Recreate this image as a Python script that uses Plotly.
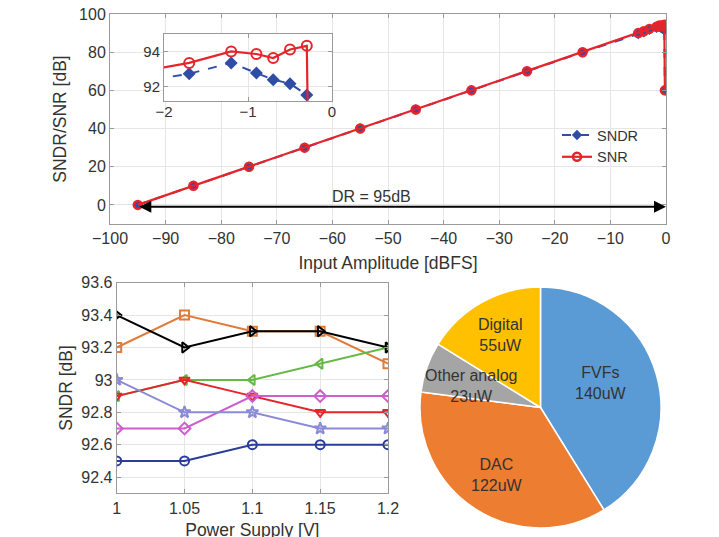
import plotly.graph_objects as go

# ---- Top: SNDR/SNR vs input amplitude ----
amp = [-95, -85, -75, -65, -55, -45, -35, -25, -15, -5, -4, -3, -1.7, -1.2, -0.9, -0.7, -0.5, -0.3, -0.2]
sndr = [0, 10, 20, 30, 40, 50, 60, 70, 80, 89.5, 90.4, 91.7, 92.72, 93.34, 92.76, 92.38, 92.15, 91.5, 60]
snr = [0, 10, 20, 30, 40, 50, 60, 70, 80, 90.0, 91.0, 92.2, 93.34, 94.0, 93.85, 93.62, 94.11, 94.32, 60]
dr_start, dr_end, dr_label, dr_label_x = -95, 0, "DR = 95dB", -53

# ---- Bottom-left: SNDR vs power supply ----
vdd = [1, 1.05, 1.1, 1.15, 1.2]
s_black = [93.4, 93.2, 93.3, 93.3, 93.2]
s_orange = [93.2, 93.4, 93.3, 93.3, 93.1]
s_green = [92.9, 93.0, 93.0, 93.1, 93.2]
s_red = [92.9, 93.0, 92.9, 92.8, 92.8]
s_magenta = [92.7, 92.7, 92.9, 92.9, 92.9]
s_lav = [93.0, 92.8, 92.8, 92.7, 92.7]
s_blue = [92.5, 92.5, 92.6, 92.6, 92.6]

# ---- Bottom-right: power breakdown ----
pie_labels = ["FVFs", "DAC", "Other analog", "Digital"]
pie_values = [140, 122, 23, 55]
pie_colors = ["#5b9bd5", "#ed7d31", "#a5a5a5", "#ffc000"]

W, H, OFF = 719, 537, 8  # page body margin offsets the figure by 8px


def dx(px):
    return (px - OFF) / W


def dy(py):
    return 1 - (py - OFF) / H


pie_label_px = [(601, 383), (497, 475), (472, 386), (500, 335)]

RED = "#e5242b"
BLUE = "#2f4da6"
FONT = "Liberation Sans, Arial, sans-serif"
TXT = "#333333"

fig = go.Figure()

# main plot traces
fig.add_trace(go.Scatter(x=amp, y=sndr, name="SNDR", mode="lines+markers",
                         line=dict(color=BLUE, width=2, dash="dash"),
                         marker=dict(symbol="diamond", size=8, color=BLUE),
                         xaxis="x", yaxis="y"))
fig.add_trace(go.Scatter(x=amp, y=snr, name="SNR", mode="lines+markers",
                         line=dict(color=RED, width=2.2),
                         marker=dict(symbol="circle-open", size=8, color=RED, line=dict(width=2.5)),
                         xaxis="x", yaxis="y"))
# inset traces
fig.add_trace(go.Scatter(x=amp, y=sndr, showlegend=False, mode="lines+markers",
                         line=dict(color=BLUE, width=2, dash="dash"),
                         marker=dict(symbol="diamond", size=10, color=BLUE),
                         xaxis="x3", yaxis="y3"))
fig.add_trace(go.Scatter(x=amp, y=snr, showlegend=False, mode="lines+markers",
                         line=dict(color=RED, width=2.2),
                         marker=dict(symbol="circle-open", size=10, color=RED, line=dict(width=2)),
                         xaxis="x3", yaxis="y3"))

# bottom-left traces
series = [
    (s_orange, "#e07b39", "square-open"),
    (s_green, "#66b844", "triangle-left-open"),
    (s_red, RED, "triangle-down-open"),
    (s_magenta, "#cc5fcc", "diamond-open"),
    (s_lav, "#8a8ad8", "star-open"),
    (s_blue, "#2a3c9c", "circle-open"),
    (s_black, "#000000", "triangle-right-open"),
]
for ys, col, sym in series:
    fig.add_trace(go.Scatter(x=vdd, y=ys, showlegend=False, mode="lines+markers",
                             line=dict(color=col, width=2),
                             marker=dict(symbol=sym, size=9, color=col, line=dict(width=2)),
                             xaxis="x2", yaxis="y2"))

# pie
fig.add_trace(go.Pie(labels=pie_labels, values=pie_values, sort=False, direction="clockwise",
                     rotation=0, marker=dict(colors=pie_colors, line=dict(color="white", width=1.5)),
                     textinfo="none", showlegend=False, hoverinfo="label+value",
                     domain=dict(x=[dx(420), dx(661)], y=[dy(528), dy(287)])))

TICKF = dict(family=FONT, size=16, color=TXT)
TITLEF = dict(family=FONT, size=17.5, color=TXT)
axis_common = dict(showline=True, linecolor="#9a9a9a", linewidth=1, mirror="ticks",
                   ticks="inside", ticklen=4, tickcolor="#9a9a9a", automargin=False,
                   ticklabeloverflow="allow",
                   showgrid=True, gridcolor="#e6e6e6", zeroline=False)

fig.update_layout(
    width=W, height=H, margin=dict(l=0, r=0, t=0, b=0, autoexpand=False),
    paper_bgcolor="white", plot_bgcolor="white",
    font=dict(family=FONT, color=TXT),
    xaxis=dict(domain=[dx(110), dx(666)], anchor="y", range=[-100, 0], dtick=10, tickfont=TICKF,
               title=dict(text="Input Amplitude [dBFS]", font=TITLEF, standoff=10), **axis_common),
    yaxis=dict(domain=[dy(224), dy(14)], anchor="x", range=[-10, 100], dtick=20, tickfont=TICKF,
               title=dict(text="SNDR/SNR [dB]", font=TITLEF, standoff=7), **axis_common),
    xaxis3=dict(domain=[dx(164), dx(332)], anchor="y3", range=[-2, 0], dtick=1,
                tickfont=dict(family=FONT, size=15, color=TXT), ticklabelstandoff=-3, **axis_common),
    yaxis3=dict(domain=[dy(100.7), dy(34)], anchor="x3", range=[91.17, 95], tickvals=[92, 94],
                tickfont=dict(family=FONT, size=15, color=TXT), **axis_common),
    xaxis2=dict(domain=[dx(116.7), dx(388)], anchor="y2", range=[1, 1.2], dtick=0.05, tickfont=TICKF,
                title=dict(text="Power Supply [V]", font=TITLEF, standoff=8), **axis_common),
    yaxis2=dict(domain=[dy(493.3), dy(282.7)], anchor="x2", range=[92.3, 93.6], dtick=0.2, tickfont=TICKF,
                title=dict(text="SNDR [dB]", font=TITLEF, standoff=4), **axis_common),
    legend=dict(x=dx(557), y=dy(119), xanchor="left", yanchor="top", bgcolor="rgba(0,0,0,0)",
                font=dict(family=FONT, size=14.5, color=TXT), itemwidth=30, tracegroupgap=0),
)

# DR double arrow
fig.add_annotation(x=dr_end, y=-0.9, ax=dr_start, ay=-0.9, xref="x", yref="y", axref="x", ayref="y",
                   showarrow=True, arrowhead=2, arrowsize=1.2, arrowwidth=2, arrowcolor="black",
                   arrowside="end+start", text="")
fig.add_annotation(x=dr_label_x, y=-0.9, xref="x", yref="y", text=dr_label,
                   showarrow=False, yanchor="bottom", yshift=0,
                   font=dict(family=FONT, size=16, color=TXT))
# pie slice labels
for lab, val, (px, py) in zip(pie_labels, pie_values, pie_label_px):
    fig.add_annotation(x=dx(px), y=dy(py), xref="paper", yref="paper", text=f"{lab}<br>{val}uW",
                       xanchor="center", yanchor="middle", showarrow=False,
                       font=dict(family=FONT, size=16, color=TXT))

fig.write_html("out.html")
